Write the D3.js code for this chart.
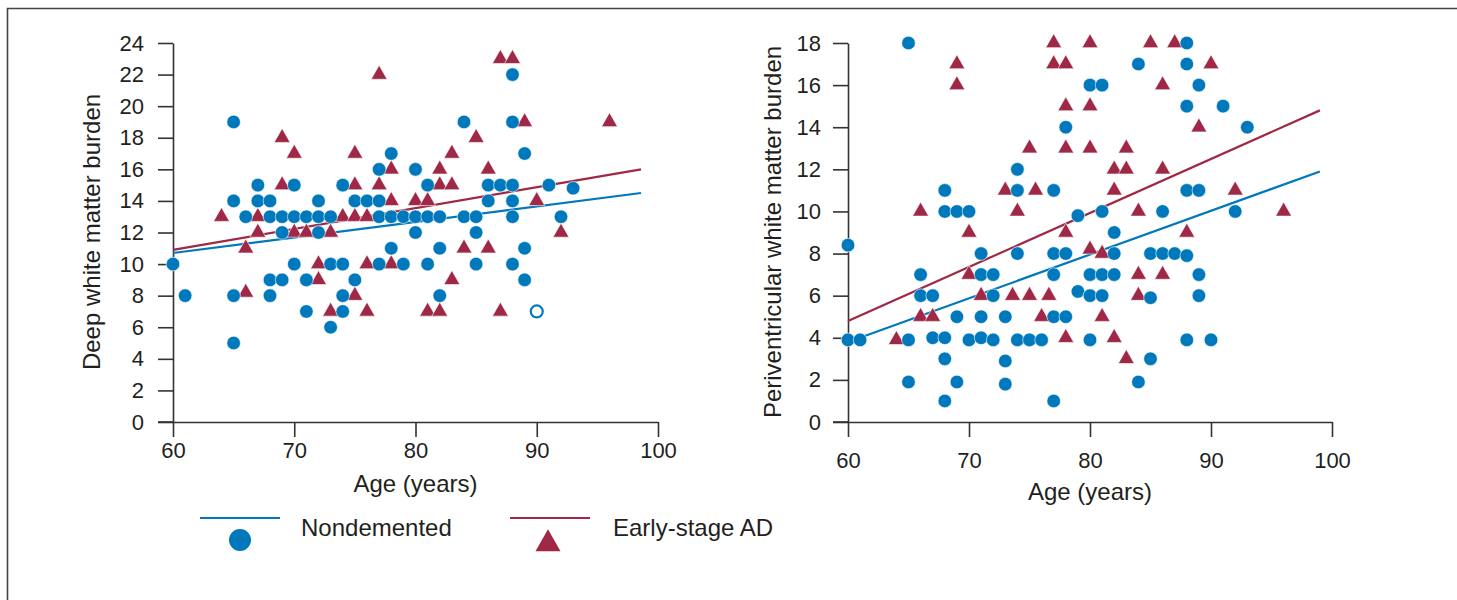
<!DOCTYPE html>
<html>
<head>
<meta charset="utf-8">
<script src="https://cdn.jsdelivr.net/npm/d3@7"></script>
<style>
  body { margin: 0; background: #fff; }
  svg text { font-family: "Liberation Sans", Arial, sans-serif; fill: #231f20; }
  .axis path, .axis line { stroke: #333; stroke-width: 1.6; }
</style>
</head>
<body>
<svg id="chart" width="1457" height="600"></svg>
<script>
const BLUE = '#0079bc';
const RED = '#9f2846';

// deep white matter burden (left panel), [age, score]
const deepNondemented = [
  [60,10],[61,8],[65,19],[65,14],[65,8],[65,5],[66,13],[67,15],[67,14],[68,14],[68,13],[68,9],[68,8],
  [69,13],[69,12],[69,9],[70,15],[70,13],[70,10],[71,13],[71,9],[71,7],[72,14],[72,13],[72,12],
  [73,13],[73,10],[73,6],[74,15],[74,10],[74,8],[74,7],[75,14],[75,9],[76,14],[77,16],[77,14],
  [77,13],[77,10],[78,17],[78,13],[78,11],[79,13],[79,10],[80,16],[80,13],[80,12],[81,15],[81,13],
  [81,10],[82,13],[82,11],[82,8],[84,19],[84,13],[85,13],[85,12],[85,10],[86,15],[86,14],[87,15],
  [88,22],[88,19],[88,15],[88,14],[88,13],[88,10],[89,17],[89,11],[89,9],[91,15],[92,13],[93,14.8]
];
const deepOpen = [[90,7]];
const deepEarlyAD = [
  [64,13],[66,11],[66,8.2],[67,13],[67,12],[69,18],[69,15],[70,17],[70,12],[71,12],[72,10],[72,9],
  [73,12],[73,7],[74,13],[75,17],[75,15],[75,13],[75,8],[76,13],[76,10],[76,7],[77,22],[77,15],
  [78,16],[78,14],[78,10],[80,14],[81,14],[81,7],[82,16],[82,15],[82,7],[83,17],[83,15],[83,9],
  [84,11],[85,18],[86,16],[86,11],[87,23],[87,7],[88,23],[89,19],[90,14],[92,12],[96,19]
];
const deepFitNondemented = [[60,10.7],[98.6,14.5]];
const deepFitEarlyAD = [[60,10.9],[98.6,16.0]];

// periventricular white matter burden (right panel), [age, score]
const periNondemented = [
  [60,8.4],[60,3.9],[61,3.9],[65,18],[65,3.9],[65,1.9],[66,7],[66,6],[67,6],[67,4],[68,11],[68,10],
  [68,4],[68,3],[68,1],[69,10],[69,5],[69,1.9],[70,10],[70,3.9],[71,8],[71,7],[71,5],[71,4],[72,7],
  [72,6],[72,3.9],[73,5],[73,2.9],[73,1.8],[74,12],[74,11],[74,8],[74,3.9],[75,3.9],[76,3.9],[77,11],
  [77,8],[77,7],[77,5],[77,1],[78,14],[78,8],[78,5],[79,9.8],[79,6.2],[80,16],[80,7],[80,6],[80,3.9],
  [81,16],[81,10],[81,7],[81,6],[82,9],[82,8],[82,7],[84,17],[84,1.9],[85,8],[85,5.9],[85,3],[86,10],
  [86,8],[87,8],[88,18],[88,17],[88,15],[88,11],[88,7.9],[88,3.9],[89,16],[89,11],[89,7],[89,6],
  [90,3.9],[91,15],[92,10],[93,14]
];
const periEarlyAD = [
  [64,3.9],[66,10],[66,5],[67,5],[69,17],[69,16],[70,9],[70,7],[71,6],[73,11],[73.6,6],[74,10],
  [75,13],[75.5,11],[75,6],[76.6,6],[76,5],[77,18],[77,17],[78,17],[78,15],[78,13],[78,9],[78,4],
  [80,18],[80,15],[80,13],[80,8.2],[81,8],[81,5],[82,12],[82,11],[82,4],[83,13],[83,12],[83,3],
  [84,10],[84,7],[84,6],[85,18],[86,16],[86,12],[86,7],[87,18],[88,9],[89,14],[90,17],[92,11],[96,10]
];
const periFitNondemented = [[60,3.8],[99,11.9]];
const periFitEarlyAD = [[60,4.8],[99,14.8]];

const ageTicks = [60, 70, 80, 90, 100];
const legendItems = [
  { label: 'Nondemented', color: BLUE, shape: 'circle' },
  { label: 'Early-stage AD', color: RED, shape: 'triangle' }
];

const svg = d3.select('#chart');

// outer frame (top and left edges only)
svg.append('path')
  .attr('d', 'M7.5,600V8.5H1457')
  .attr('fill', 'none')
  .attr('stroke', '#444')
  .attr('stroke-width', 1.6);

function trianglePath(w, h) {
  return `M0,${-h * 2 / 3}L${w / 2},${h / 3}L${-w / 2},${h / 3}Z`;
}

function drawPanel(opt) {
  const x = d3.scaleLinear().domain([60, 100]).range(opt.xRange);
  const y = d3.scaleLinear().domain([0, opt.yMax]).range([422, 43]);
  const g = svg.append('g');

  // x axis line runs under the y ticks too
  g.append('line')
    .attr('x1', opt.xRange[0] - 15).attr('x2', opt.xRange[0])
    .attr('y1', 422).attr('y2', 422)
    .attr('stroke', '#333').attr('stroke-width', 1.6);

  g.append('g')
    .attr('class', 'axis')
    .attr('transform', 'translate(0,422)')
    .call(d3.axisBottom(x).tickValues(ageTicks).tickSize(15).tickSizeOuter(0).tickPadding(opt.xPad))
    .call(a => a.selectAll('text').attr('font-size', 22).attr('font-family', '"Liberation Sans", Arial, sans-serif'));

  g.append('g')
    .attr('class', 'axis')
    .attr('transform', `translate(${opt.xRange[0]},0)`)
    .call(d3.axisLeft(y).tickValues(d3.range(0, opt.yMax + 1, 2)).tickSize(15).tickSizeOuter(0).tickPadding(opt.yPad))
    .call(a => a.selectAll('text').attr('font-size', 22).attr('font-family', '"Liberation Sans", Arial, sans-serif'));

  g.append('text')
    .attr('x', (opt.xRange[0] + opt.xRange[1]) / 2)
    .attr('y', opt.xTitleY)
    .attr('text-anchor', 'middle')
    .attr('font-size', 24)
    .text('Age (years)');

  g.append('text')
    .attr('transform', `translate(${opt.yTitleX},232) rotate(-90)`)
    .attr('text-anchor', 'middle')
    .attr('font-size', 24)
    .text(opt.yTitle);

  const line = d3.line().x(d => x(d[0])).y(d => y(d[1]));
  g.append('path').datum(opt.fitBlue).attr('d', line)
    .attr('fill', 'none').attr('stroke', BLUE).attr('stroke-width', 2.2);
  g.append('path').datum(opt.fitRed).attr('d', line)
    .attr('fill', 'none').attr('stroke', RED).attr('stroke-width', 2.2);

  g.append('g').selectAll('path')
    .data(opt.red)
    .enter().append('path')
    .attr('d', trianglePath(16, 14))
    .attr('transform', d => `translate(${x(d[0])},${y(d[1])})`)
    .attr('fill', RED)
    .attr('stroke', '#fff').attr('stroke-width', 0.6);

  g.append('g').selectAll('circle')
    .data(opt.blue)
    .enter().append('circle')
    .attr('cx', d => x(d[0]))
    .attr('cy', d => y(d[1]))
    .attr('r', 6.8)
    .attr('fill', BLUE)
    .attr('stroke', '#fff').attr('stroke-width', 0.6);

  if (opt.open) {
    g.append('g').selectAll('circle')
      .data(opt.open)
      .enter().append('circle')
      .attr('cx', d => x(d[0]))
      .attr('cy', d => y(d[1]))
      .attr('r', 6)
      .attr('fill', '#fff')
      .attr('stroke', BLUE).attr('stroke-width', 2.2);
  }
}

drawPanel({
  xRange: [173, 658], yMax: 24, xPad: 5, yPad: 14, xTitleY: 492, yTitleX: 100,
  yTitle: 'Deep white matter burden',
  blue: deepNondemented, red: deepEarlyAD, open: deepOpen,
  fitBlue: deepFitNondemented, fitRed: deepFitEarlyAD
});

drawPanel({
  xRange: [848, 1332], yMax: 18, xPad: 15, yPad: 12, xTitleY: 500, yTitleX: 781,
  yTitle: 'Periventricular white matter burden',
  blue: periNondemented, red: periEarlyAD,
  fitBlue: periFitNondemented, fitRed: periFitEarlyAD
});

// legend
const legend = svg.append('g');
const legendX = [200, 510];
legendItems.forEach((item, i) => {
  const lg = legend.append('g').attr('transform', `translate(${legendX[i]},0)`);
  lg.append('line')
    .attr('x1', 0).attr('x2', 80).attr('y1', 518).attr('y2', 518)
    .attr('stroke', item.color).attr('stroke-width', 2.2);
  if (item.shape === 'circle') {
    lg.append('circle').attr('cx', 40).attr('cy', 540).attr('r', 11).attr('fill', item.color);
  } else {
    lg.append('path').attr('d', trianglePath(25, 22))
      .attr('transform', 'translate(38,544)').attr('fill', item.color);
  }
  lg.append('text')
    .attr('x', i === 0 ? 101 : 103)
    .attr('y', 536)
    .attr('font-size', 24)
    .text(item.label);
});
</script>
</body>
</html>
